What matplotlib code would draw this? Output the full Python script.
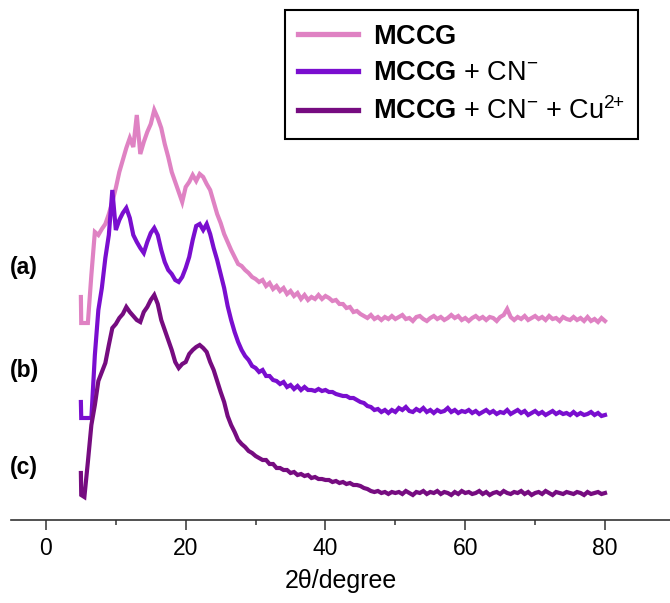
import numpy as np
import matplotlib
matplotlib.use("Agg")
import matplotlib.pyplot as plt
from matplotlib.ticker import MultipleLocator

plt.rcParams["font.family"] = ["Liberation Sans", "DejaVu Sans"]
plt.rcParams["mathtext.fontset"] = "custom"
plt.rcParams["mathtext.rm"] = "Liberation Sans"
plt.rcParams["mathtext.bf"] = "Liberation Sans:bold"
plt.rcParams["mathtext.it"] = "Liberation Sans:italic"

# 2-theta grid: a start point, then 0.5 degree steps up to 80
two_theta = np.concatenate([[5.0, 5.05], np.arange(5.5, 80.01, 0.5)])

# intensities (a.u., already stacked with offsets)
mccg = [223, 197,
        197, 197, 245, 288, 285, 291, 296, 306, 318, 332,
        348, 360, 372, 382, 373, 405, 366, 378, 388, 396,
        410, 402, 392, 376, 363, 348, 338, 328, 318, 333,
        338, 345, 339, 346, 343, 336, 330, 318, 306, 297,
        286, 278, 270, 263, 256, 254, 250, 247, 243, 241,
        238, 240, 234, 237, 231, 234, 229, 232, 226, 229,
        224, 227, 221, 225, 220, 223, 221, 225, 221, 224,
        222, 219, 220, 216, 216, 212, 213, 208, 209, 206,
        204, 202, 205, 201, 203, 200, 203, 201, 204, 201,
        203, 205, 201, 202, 199, 203, 204, 201, 199, 202,
        204, 201, 203, 200, 202, 205, 202, 204, 200, 202,
        199, 202, 204, 201, 203, 200, 203, 202, 199, 203,
        205, 211, 203, 200, 203, 201, 204, 200, 202, 204,
        201, 203, 200, 204, 201, 202, 199, 203, 201, 200,
        203, 200, 202, 199, 203, 199, 201, 198, 202, 199]

mccg_cn = [118, 102,
           102, 102, 102, 165, 210, 232, 262, 285, 330, 290,
           300, 307, 312, 302, 285, 278, 272, 267, 278, 287,
           292, 285, 270, 258, 250, 246, 240, 238, 243, 252,
           263, 280, 294, 296, 290, 296, 286, 272, 260, 246,
           232, 214, 200, 188, 178, 170, 164, 160, 154, 152,
           148, 150, 144, 144, 140, 139, 136, 138, 133, 135,
           131, 134, 130, 133, 130, 130, 129, 131, 129, 130,
           128, 128, 126, 125, 124, 124, 122, 122, 120, 118,
           117, 114, 113, 110, 111, 108, 110, 107, 110, 108,
           112, 110, 113, 109, 108, 111, 109, 112, 108, 110,
           107, 110, 108, 109, 112, 108, 110, 107, 109, 108,
           110, 107, 109, 106, 108, 110, 107, 109, 106, 108,
           107, 110, 106, 108, 110, 107, 109, 105, 107, 109,
           106, 108, 105, 107, 109, 106, 108, 106, 107, 105,
           108, 105, 107, 105, 106, 108, 105, 107, 104, 105]

mccg_cn_cu = [47, 25,
              23, 58, 95, 115, 139, 148, 157, 175, 192, 196,
              202, 206, 213, 208, 204, 200, 198, 208, 213, 220,
              225, 216, 200, 190, 180, 170, 158, 152, 156, 158,
              166, 170, 173, 175, 172, 168, 158, 150, 139, 128,
              118, 104, 95, 88, 80, 76, 73, 69, 67, 64,
              62, 60, 60, 56, 56, 52, 52, 50, 50, 47,
              48, 45, 46, 44, 45, 42, 43, 41, 41, 40,
              40, 38, 39, 37, 38, 36, 37, 35, 35, 34,
              32, 31, 29, 28, 29, 27, 28, 26, 28, 27,
              28, 26, 29, 27, 25, 28, 27, 29, 26, 28,
              27, 29, 26, 28, 27, 25, 28, 26, 29, 27,
              28, 26, 27, 29, 26, 28, 25, 27, 28, 26,
              29, 27, 26, 28, 27, 29, 26, 28, 25, 27,
              28, 26, 29, 27, 25, 28, 27, 26, 28, 27,
              26, 28, 27, 25, 28, 26, 27, 28, 26, 27]

labels = [r"$\mathbf{MCCG}$",
          r"$\mathbf{MCCG}$ + CN$^{-}$",
          r"$\mathbf{MCCG}$ + CN$^{-}$ + Cu$^{2\!\!+}$"]
colors = ["#DF82C3", "#7A0ECF", "#760C80"]
panel_tags = ["(a)", "(b)", "(c)"]
tag_y = [0.556, 0.385, 0.224]

fig = plt.figure(figsize=(6.7, 6.03), dpi=100)
ax = fig.add_axes([11 / 670, 83 / 603, 659 / 670, 520 / 603])

series = [mccg, mccg_cn, mccg_cn_cu]
lines = []
for ys, c, lab in zip(series, colors, labels):
    ln, = ax.plot(two_theta, ys, color=c, lw=3.0, label=lab,
                  solid_joinstyle="miter")
    lines.append(ln)

ax.set_xlim(-5.0, 89.3)
ax.set_ylim(0, 520)
for side in ["left", "right", "top"]:
    ax.spines[side].set_visible(False)
ax.spines["bottom"].set_linewidth(1.2)
ax.spines["bottom"].set_color("#333333")
ax.set_yticks([])
ax.xaxis.set_major_locator(MultipleLocator(20))
ax.xaxis.set_minor_locator(MultipleLocator(10))
ax.tick_params(axis="x", which="major", length=7, width=1.1, color="#333333",
               labelsize=16.5, pad=5)
ax.tick_params(axis="x", which="minor", length=3.5, width=1.1, color="#333333")
ax.set_xlabel("2θ/degree", fontsize=18, labelpad=7)

for tag, ty in zip(panel_tags, tag_y):
    fig.text(10 / 670, ty, tag, fontsize=16.5, fontweight="bold",
             ha="left", va="center")

leg = ax.legend(handles=lines, loc="upper right",
                bbox_to_anchor=(638 / 670, 1 - 10 / 603),
                bbox_transform=fig.transFigure, borderaxespad=0,
                fontsize=19.5, frameon=True, fancybox=False,
                edgecolor="black", framealpha=1, handlelength=2.2,
                handletextpad=0.55, labelspacing=0.4, borderpad=0.5)
leg.get_frame().set_linewidth(1.5)
for h in leg.get_lines():
    h.set_linewidth(3.8)

fig.savefig("out.png", dpi=100)
plt.close(fig)
